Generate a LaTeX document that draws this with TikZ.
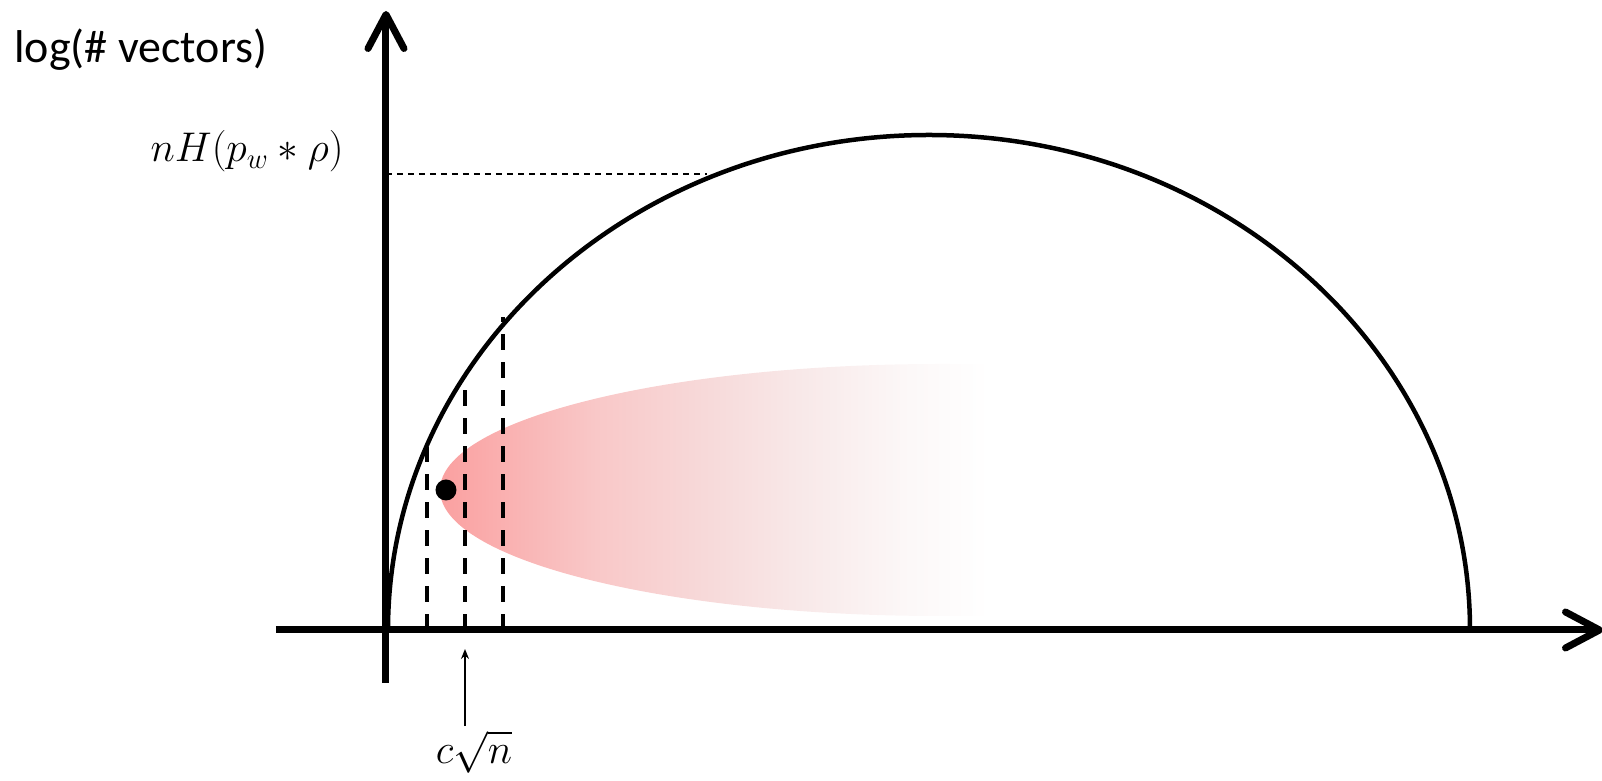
\documentclass[tikz,border=0pt]{standalone}
\usepackage{fontspec}
\newfontfamily\calibri{Carlito}
\usetikzlibrary{arrows.meta}
\definecolor{fadered}{RGB}{250,160,160}
\definecolor{fadeA}{RGB}{249,200,200}
\definecolor{fadeB}{RGB}{247,216,216}
\definecolor{fadeC}{RGB}{248,232,232}
\definecolor{fadeD}{RGB}{252,248,248}
\pgfdeclarehorizontalshading{redfade}{100bp}{color(0bp)=(fadered); color(25bp)=(fadered);
  color(39bp)=(fadeA); color(48bp)=(fadeB); color(57bp)=(fadeC); color(67bp)=(fadeD);
  color(74bp)=(white); color(100bp)=(white)}
\begin{document}
\begin{tikzpicture}[x=0.5pt,y=0.5pt,
  axis/.style={line width=3.5pt,-{Straight Barb[length=17pt,width=18pt,line cap=round,line join=round]}},
  cut/.style={line width=2pt,dash pattern=on 8pt off 6pt},
  guide/.style={line width=0.75pt,dash pattern=on 3pt off 2.5pt},
  mathlabel/.style={font=\fontsize{#1}{25}\selectfont,inner sep=2pt},
  mathlabel/.default=21]
\useasboundingbox (-386,-151) rectangle (1216,630);

% fading region
\shade[shading=redfade]
  (614,266) -- (554,266) arc[start angle=90,end angle=270,x radius=250pt,y radius=63pt] -- (614,14) -- cycle;

% half ellipse
\draw[line width=2.25pt] (2,0) arc[start angle=180,end angle=0,x radius=270.5pt,y radius=247.5pt];

\foreach \x/\h in {41/183,79/240,117/313}
  \draw[cut] (\x,0) -- (\x,\h);
\draw[guide] (0,456) -- (321,456);
\fill (60,140) circle[radius=5.25pt];

% axes
\draw[axis] (0,-53) -- (0,619);
\draw[axis] (-110,0) -- (1217,0);

\node[font=\calibri\fontsize{23}{28}\selectfont,anchor=base west,inner sep=0pt] (ylabel) at (-372,567) {log(\# vectors)};
\node[mathlabel=22.5,anchor=base east] (entropy) at (-38,468) {$nH(p_w*\rho)$};
\node[mathlabel=20] (root) at (88,-122) {$c\sqrt{n}$};
\coordinate (tick) at (79,-19);
\draw[line width=1pt,-{Stealth[length=5pt,width=4pt]}] (tick |- root.north) -- (tick);
\end{tikzpicture}
\end{document}
